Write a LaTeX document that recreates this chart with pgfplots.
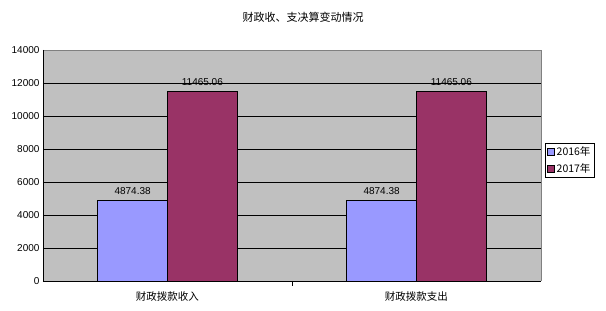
\documentclass[border=0pt]{standalone}
\usepackage{pgfplots}
\pgfplotsset{compat=1.18}
\usepackage{fontspec}
\setmainfont{Liberation Sans}
\newfontfamily\cjk{Noto Sans CJK SC}
\definecolor{barA}{HTML}{9999FF}
\definecolor{barB}{HTML}{993366}
\definecolor{plotbg}{HTML}{C0C0C0}
\begin{document}
\begin{tikzpicture}[x=1pt,y=1pt]
\path[use as bounding box] (0,0) rectangle (606,311);
\node[font=\cjk\fontsize{11}{12}\selectfont] at (303,294) {财政收、支决算变动情况};
\begin{axis}[
  at={(43pt,30pt)}, anchor=south west,
  scale only axis, width=498pt, height=231pt,
  ymin=0, ymax=14000, ytick={0,2000,...,14000},
  xmin=-0.5, xmax=1.5,
  xtick={0,1}, xticklabels={财政拨款收入,财政拨款支出},
  x tick label style={font=\cjk\fontsize{10.5}{12}\selectfont, yshift=-3pt},
  major x tick style={draw=none},
  y tick label style={font=\fontsize{10}{12}\selectfont},
  scaled y ticks=false,
  /pgf/number format/assume math mode=true,
  /pgf/number format/1000 sep={},
  ymajorgrids, grid style={black, line width=0.8pt},
  major y tick style={draw=none},
  axis background/.style={fill=plotbg},
  axis line style={draw=none},
  ybar=0pt, bar width=0.28,
  nodes near coords,
  nodes near coords style={font=\fontsize{10}{12}\selectfont, yshift=2pt},
  point meta=explicit symbolic,
  legend style={at={(1.008,0.446)}, anchor=south west, draw=black, line width=0.6pt,
    font=\cjk\fontsize{10.5}{12}\selectfont, row sep=2pt, inner sep=2pt},
  legend cell align=left,
  legend image code/.code={\draw[#1, draw=black, line width=0.4pt] (0pt,-3.5pt) rectangle (7pt,3.5pt);},
  clip=false,
]
\addplot[fill=barA, draw=black, line width=0.8pt] coordinates {(0,4874.38) [4874.38] (1,4874.38) [4874.38]};
\addplot[fill=barB, draw=black, line width=0.8pt] coordinates {(0,11465.06) [11465.06] (1,11465.06) [11465.06]};
\legend{2016年,2017年}
\draw[gray, line width=0.8pt] (rel axis cs:0,1) -- (rel axis cs:1,1) -- (rel axis cs:1,0);
\draw[black, line width=0.8pt] (rel axis cs:0,1) -- (rel axis cs:0,0) -- (rel axis cs:1,0);
\draw[black, line width=0.8pt] (rel axis cs:0.5,0) -- ([yshift=-5pt]rel axis cs:0.5,0);
\end{axis}
\end{tikzpicture}
\end{document}
